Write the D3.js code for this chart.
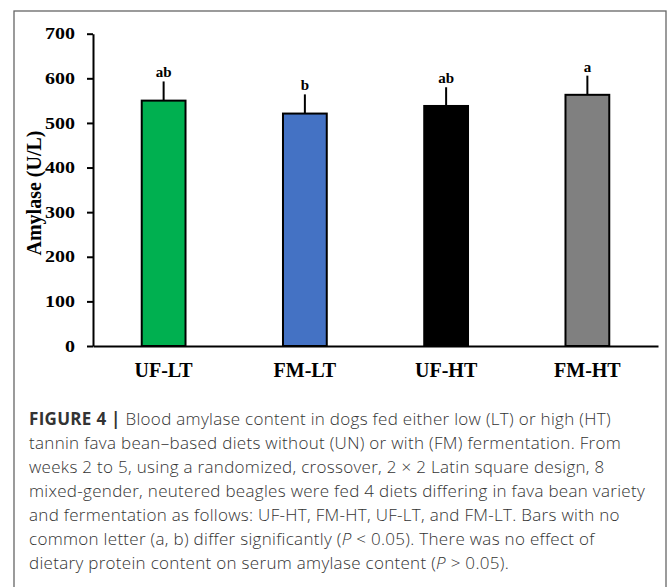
<!DOCTYPE html>
<html>
<head>
<meta charset="utf-8">
<script src="https://d3js.org/d3.v7.min.js"></script>
<style>
  body { margin: 0; background: #fff; }
  svg { display: block; }
</style>
</head>
<body>
<svg width="670" height="587"></svg>
<script>
// diets, mean amylase and error (U/L), significance letters
var diets = ["UF-LT", "FM-LT", "UF-HT", "FM-HT"];
var amylase = [550, 521, 538, 563];
var errors = [43, 43, 42, 43];
var letters = ["ab", "b", "ab", "a"];
var colors = ["#00B050", "#4472C4", "#000000", "#808080"];
var yTicks = [0, 100, 200, 300, 400, 500, 600, 700];

var captionLines = [
  [{t: "FIGURE 4 |", b: true}, {t: " Blood amylase content in dogs fed either low (LT) or high (HT)"}],
  [{t: "tannin fava bean\u2013based diets without (UN) or with (FM) fermentation. From"}],
  [{t: "weeks 2 to 5, using a randomized, crossover, 2 \u00d7 2 Latin square design, 8"}],
  [{t: "mixed-gender, neutered beagles were fed 4 diets differing in fava bean variety"}],
  [{t: "and fermentation as follows: UF-HT, FM-HT, UF-LT, and FM-LT. Bars with no"}],
  [{t: "common letter (a, b) differ significantly ("}, {t: "P", i: true}, {t: " < 0.05). There was no effect of"}],
  [{t: "dietary protein content on serum amylase content ("}, {t: "P", i: true}, {t: " > 0.05)."}]
];

var svg = d3.select("svg");
var serif = "'Liberation Serif', 'Times New Roman', serif";

// frame round chart and caption
svg.append("rect")
  .attr("x", 14).attr("y", 11)
  .attr("width", 652).attr("height", 600)
  .attr("fill", "none")
  .attr("stroke", "#666")
  .attr("stroke-width", 1.3);

var x = d3.scaleBand().domain(diets).range([93, 658])
  .paddingInner(0.69).paddingOuter(0.345);
var y = d3.scaleLinear().domain([0, 700]).range([346, 33.7]);

// error bars (upper only)
svg.selectAll("line.err").data(diets).enter().append("line")
  .attr("class", "err")
  .attr("x1", function(d){ return x(d) + x.bandwidth() / 2; })
  .attr("x2", function(d){ return x(d) + x.bandwidth() / 2; })
  .attr("y1", function(d, i){ return y(amylase[i]); })
  .attr("y2", function(d, i){ return y(amylase[i] + errors[i]); })
  .attr("stroke", "#000")
  .attr("stroke-width", 2);

svg.selectAll("rect.bar").data(diets).enter().append("rect")
  .attr("class", "bar")
  .attr("x", function(d){ return x(d); })
  .attr("y", function(d, i){ return y(amylase[i]); })
  .attr("width", x.bandwidth())
  .attr("height", function(d, i){ return y(0) - y(amylase[i]); })
  .attr("fill", function(d, i){ return colors[i]; })
  .attr("stroke", "#000")
  .attr("stroke-width", 2);

svg.selectAll("text.sig").data(diets).enter().append("text")
  .attr("class", "sig")
  .attr("x", function(d){ return x(d) + x.bandwidth() / 2; })
  .attr("y", function(d, i){ return y(amylase[i] + errors[i]) - 4; })
  .attr("text-anchor", "middle")
  .attr("font-family", serif)
  .attr("font-weight", "bold")
  .attr("font-size", 15)
  .text(function(d, i){ return letters[i]; });

// y axis
var yAxis = svg.append("g")
  .attr("transform", "translate(93,0)")
  .call(d3.axisLeft(y).tickValues(yTicks).tickSize(6).tickSizeOuter(0));
yAxis.select(".domain").attr("stroke", "#000").attr("stroke-width", 2);
yAxis.selectAll(".tick line").attr("stroke", "#000").attr("stroke-width", 2);
yAxis.selectAll(".tick text")
  .attr("font-family", serif)
  .attr("font-weight", "bold")
  .attr("font-size", 16)
  .attr("fill", "#000")
  .attr("x", -18 / 1.25)
  .attr("transform", "scale(1.25,1)");

// x axis
var xAxis = svg.append("g")
  .attr("transform", "translate(0,346)")
  .call(d3.axisBottom(x).tickSize(0).tickSizeOuter(0).tickPadding(17));
xAxis.select(".domain").attr("stroke", "#000").attr("stroke-width", 2);
xAxis.selectAll(".tick text")
  .attr("font-family", serif)
  .attr("font-weight", "bold")
  .attr("font-size", 20)
  .attr("fill", "#000");

svg.append("text")
  .attr("transform", "translate(41,193) rotate(-90)")
  .attr("text-anchor", "middle")
  .attr("font-family", serif)
  .attr("font-weight", "bold")
  .attr("font-size", 20)
  .text("Amylase (U/L)");

// caption
var cap = svg.append("text")
  .attr("font-family", "'Open Sans', 'Liberation Sans', sans-serif")
  .attr("font-size", 17)
  .attr("font-weight", 300)
  .attr("letter-spacing", 0.3)
  .attr("fill", "#333");
captionLines.forEach(function(line, i){
  var row = cap.append("tspan").attr("x", 29).attr("y", 425 + i * 24);
  line.forEach(function(part){
    row.append("tspan")
      .attr("font-weight", part.b ? "bold" : null)
      .attr("font-style", part.i ? "italic" : null)
      .text(part.t);
  });
});
</script>
</body>
</html>
